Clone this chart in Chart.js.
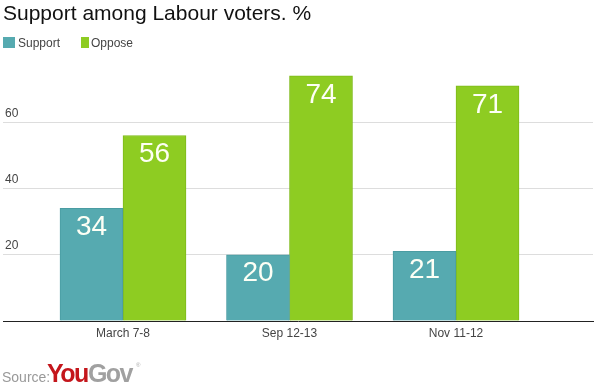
<!DOCTYPE html>
<html>
<head>
<meta charset="utf-8">
<script src="https://cdn.jsdelivr.net/npm/chart.js@4"></script>
<style>
  body { margin: 0; background: #fff; font-family: "Liberation Sans", Arial, sans-serif; }
  #wrap { position: relative; width: 597px; height: 392px; overflow: hidden; }
  #chart { position: absolute; left: 0; top: 0; }
  .abs { position: absolute; white-space: nowrap; }
  #title { left: 3px; top: 2px; font-size: 21px; line-height: 21px; color: #111; }
  .sw { position: absolute; top: 37px; height: 11px; }
  .lg { top: 37px; font-size: 12px; line-height: 12px; color: #444; }
  #src { left: 2px; top: 370px; font-size: 14px; line-height: 14px; color: #999; }
  #logo { left: 47px; top: 361px; font-size: 25px; line-height: 25px; font-weight: bold; letter-spacing: -1.5px; }
  #logo .you { color: #c4161c; }
  #logo .gov { color: #a0a0a0; }
  #reg { left: 136px; top: 362px; font-size: 6px; line-height: 6px; color: #aaa; }
</style>
</head>
<body>
<div id="wrap">
  <canvas id="chart" width="597" height="392"></canvas>
  <div class="abs" id="title">Support among Labour voters. %</div>
  <div class="sw" style="left:3px;width:12px;background:#56aab0"></div>
  <div class="abs lg" style="left:18px">Support</div>
  <div class="sw" style="left:81px;width:8px;background:#8ecc22"></div>
  <div class="abs lg" style="left:91px">Oppose</div>
  <div class="abs" id="src">Source:</div>
  <div class="abs" id="logo"><span class="you">You</span><span class="gov">Gov</span></div>
  <div class="abs" id="reg">®</div>
</div>
<script>
// data
const categories = ['March 7-8', 'Sep 12-13', 'Nov 11-12'];
const supportData = [34, 20, 21];
const opposeData = [56, 74, 71];
const yTicks = [20, 40, 60];

// angka putih di dalam batang
const barLabels = {
    id: 'barLabels',
    afterDatasetsDraw(chart) {
        const ctx = chart.ctx;
        ctx.save();
        ctx.font = '28px "Liberation Sans", Arial, sans-serif';
        ctx.fillStyle = '#fdfff5';
        ctx.textAlign = 'center';
        ctx.textBaseline = 'middle';
        chart.data.datasets.forEach((ds, i) => {
            chart.getDatasetMeta(i).data.forEach((bar, j) => {
                ctx.fillText(String(ds.data[j].y), bar.x, bar.y + 19);
            });
        });
        ctx.restore();
    }
};

const chart = new Chart(document.getElementById('chart').getContext('2d'), {
    type: 'bar',
    data: {
        datasets: [{
            label: 'Support',
            data: supportData.map((v, i) => ({ x: i, y: v })),
            backgroundColor: '#56aab0',
            borderColor: '#4a9ca2',
            borderWidth: 1,
            barThickness: 63
        }, {
            label: 'Oppose',
            data: opposeData.map((v, i) => ({ x: i, y: v })),
            backgroundColor: '#8ecc22',
            borderColor: '#7eba1a',
            borderWidth: 1,
            barThickness: 63
        }]
    },
    options: {
        responsive: false,
        animation: false,
        layout: { padding: { top: 56, left: 1, right: 4, bottom: 51 } },
        plugins: {
            legend: { display: false },
            title: { display: false },
            tooltip: { enabled: false }
        },
        scales: {
            x: {
                type: 'linear',
                offset: false,
                bounds: 'data',
                min: -0.7207,
                max: 2.8228,
                afterBuildTicks: (scale) => {
                    scale.ticks = categories.map((c, i) => ({ value: i }));
                },
                afterFit: (scale) => { scale.height = 20; },
                grid: { display: false, drawTicks: false, offset: false },
                border: { display: true, color: '#222', width: 1 },
                ticks: {
                    padding: 5,
                    color: '#444',
                    font: { size: 12, family: '"Liberation Sans", Arial, sans-serif' },
                    callback: (v) => categories[v] ?? ''
                }
            },
            y: {
                min: 0,
                max: 80,
                afterBuildTicks: (scale) => {
                    scale.ticks = [0, ...yTicks, 80].map(v => ({ value: v }));
                },
                afterFit: (scale) => { scale.width = 2; },
                grid: {
                    drawTicks: false,
                    color: (c) => yTicks.includes(c.tick.value) ? '#dddddd' : 'rgba(0,0,0,0)'
                },
                border: { display: false },
                ticks: {
                    mirror: true,
                    padding: 2,
                    labelOffset: -9,
                    color: '#444',
                    font: { size: 12, family: '"Liberation Sans", Arial, sans-serif' },
                    callback: (v) => yTicks.includes(v) ? String(v) : ''
                }
            }
        }
    },
    plugins: [barLabels]
});
</script>
</body>
</html>
